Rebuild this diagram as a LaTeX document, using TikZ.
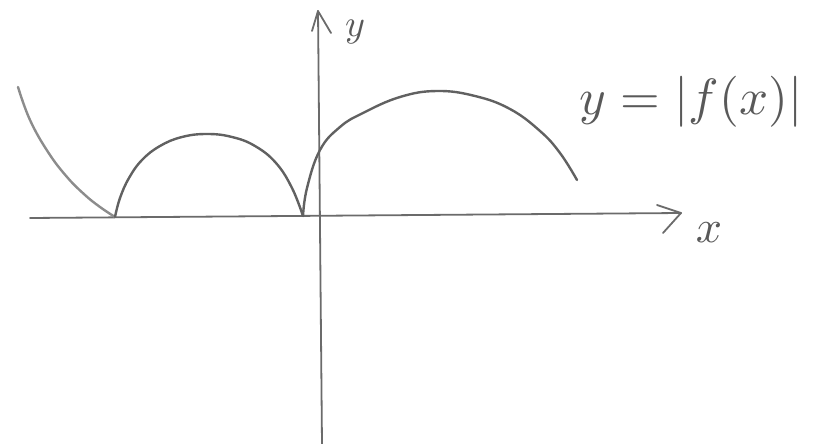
\documentclass[tikz,border=0pt]{standalone}
\begin{document}
\begin{tikzpicture}[x=1pt,y=-1pt,
  pen/.style={draw=black!62,line width=2.4pt,line cap=round,line join=round},
  axispen/.style={draw=black!58,line width=1.8pt,line cap=round,line join=round},
  hand/.style={text=black!65,inner sep=0pt}]
\useasboundingbox (0,0) rectangle (814,444);
% axes
\coordinate (xs) at (30,218);
\coordinate (xe) at (681,213);
\coordinate (ys) at (322,444);
\coordinate (ye) at (318,11);
\draw[axispen] (xs) -- (xe);
\draw[axispen] (657,205) -- (xe) -- (663,233);
\draw[axispen] (ys) -- (ye);
\draw[axispen] (312,31) -- (ye) -- (331,33);
\node[hand,scale=3.8] (ylab) at (355,32) {$y$};
\node[hand,scale=4.6] (xlab) at (709,233) {$x$};
% curve pieces
\draw[pen,draw=black!45] plot[smooth,tension=0.7] coordinates {(18,87) (30,120) (48,152) (67,177) (85,195) (100,207) (115,217)};
\draw[pen] plot[smooth,tension=0.7] coordinates {(115,217) (120,198) (129,178) (142,160) (160,146) (182,137) (207,134) (232,137) (255,146) (276,163) (292,188) (303,216)};
\draw[pen] plot[smooth,tension=0.7] coordinates {(303,216) (307,188) (320,150) (340,127) (363,113) (400,97) (437,91) (475,96) (510,109) (540,131) (560,153) (577,180)};
% label
\node[hand,scale=5.1] (flab) at (691,102) {$y=|f(x)|$};
\end{tikzpicture}
\end{document}
